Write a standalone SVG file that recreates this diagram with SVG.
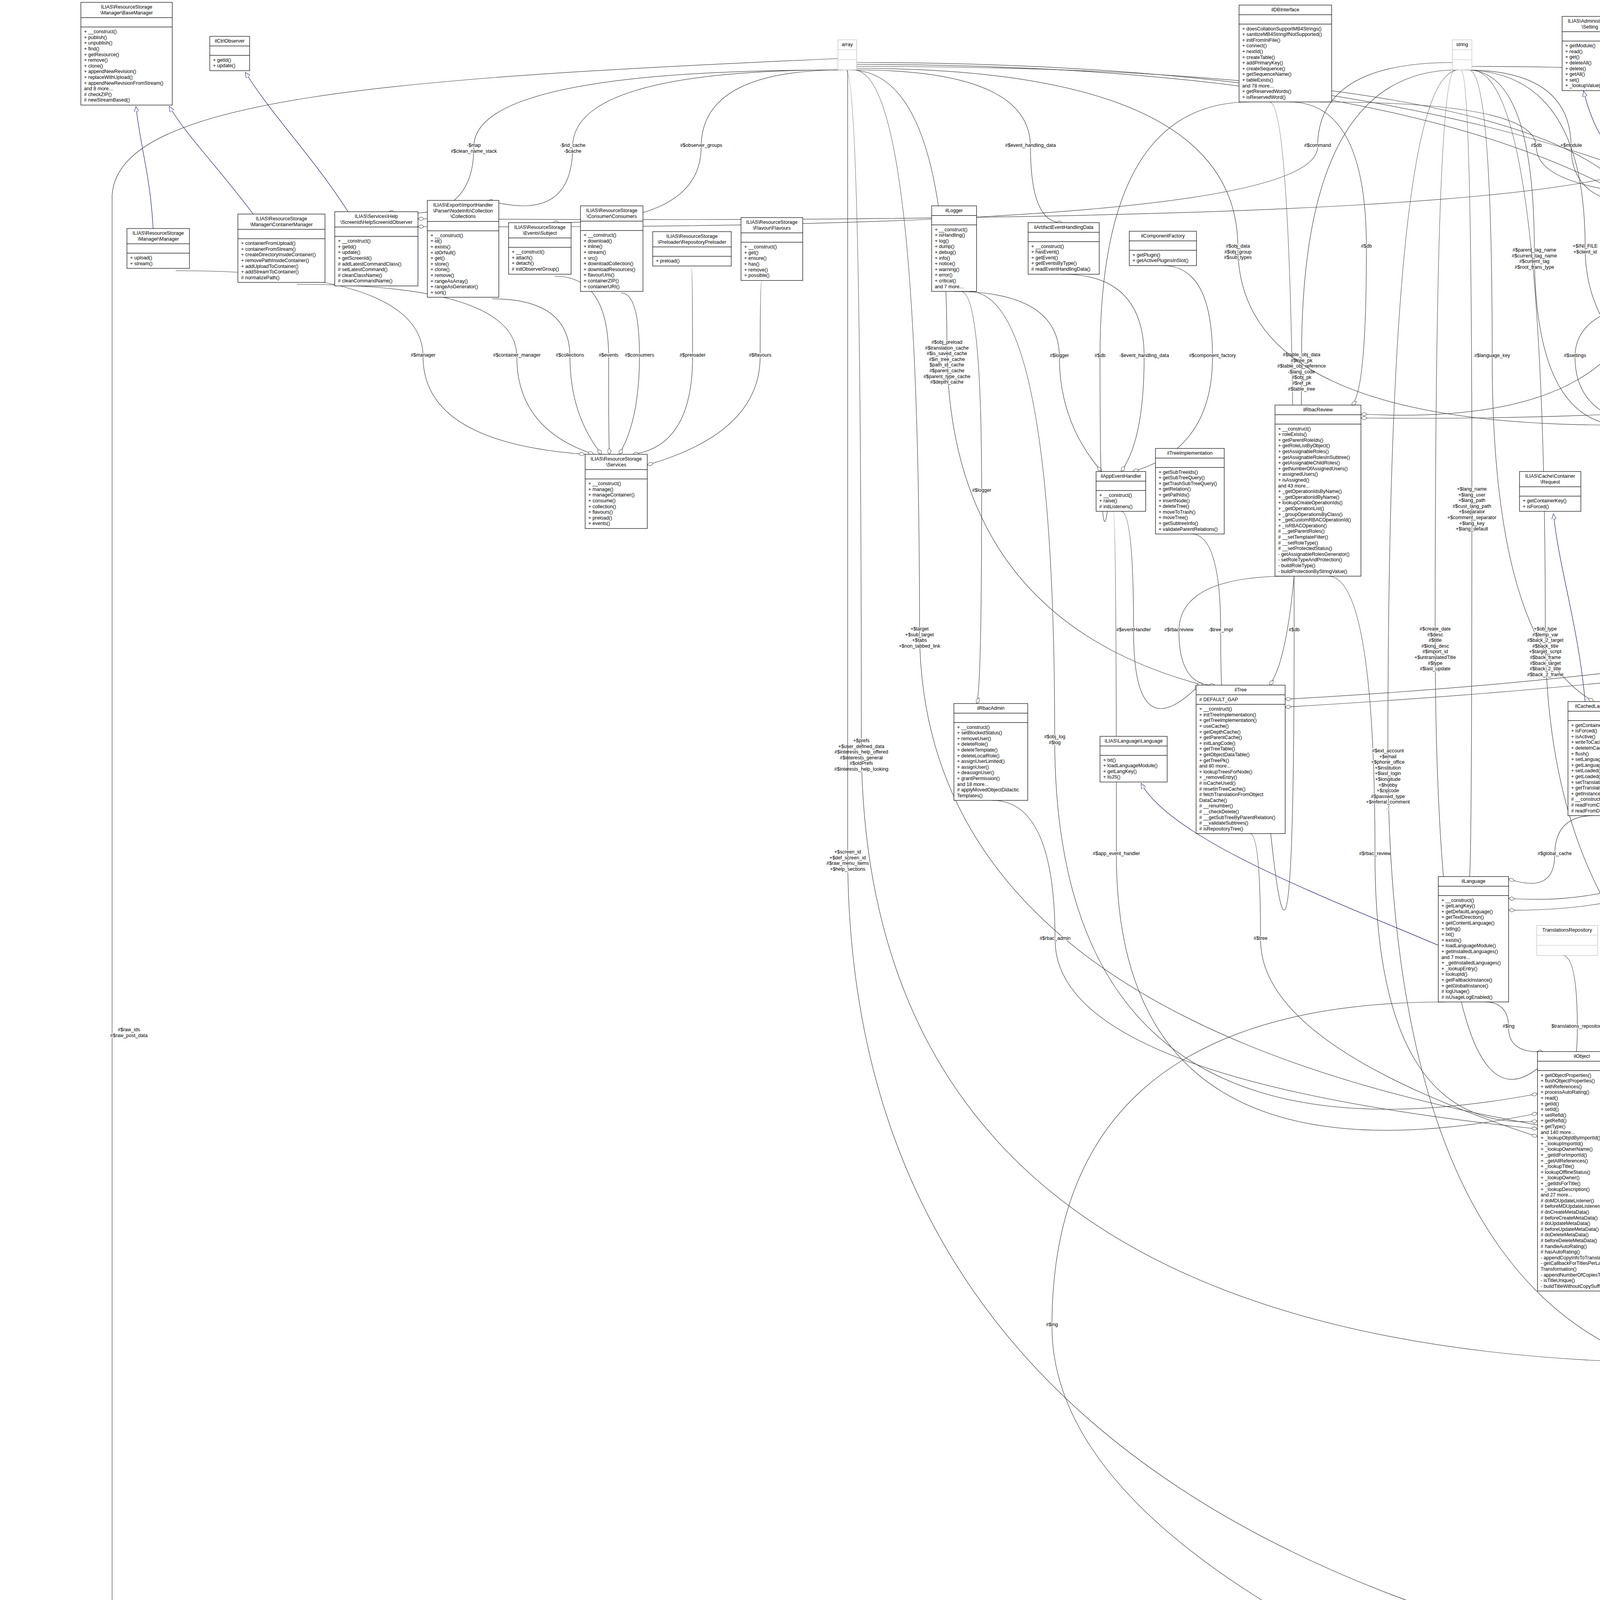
<svg xmlns="http://www.w3.org/2000/svg" width="7363" height="5155" viewBox="0 0 7363 5155">
<defs>
<style>
text{font-family:"Liberation Sans",Arial,sans-serif;font-size:12.5px;fill:#000}
.tc{text-anchor:middle}
.n rect{fill:#fff;stroke:#000;stroke-width:1.2}
.n path{stroke:#000;stroke-width:1.2;fill:none}
.g rect{stroke:#bfbfbf}
.g path{stroke:#bfbfbf}
.hl rect{fill:#bfbfbf}
.e path{fill:none;stroke:#404040;stroke-width:1.2;marker-end:url(#d)}
.e path.i{stroke:#191970;marker-end:url(#t)}
.e text{text-anchor:middle;paint-order:stroke;stroke:#fff;stroke-width:3px}
</style>
<marker id="d" viewBox="0 0 16 10" refX="16" refY="5" markerWidth="16" markerHeight="10" markerUnits="userSpaceOnUse" orient="auto"><path d="M0,5L8,0L16,5L8,10Z" fill="#fff" stroke="#404040"/></marker>
<marker id="t" viewBox="0 0 14 12" refX="14" refY="6" markerWidth="14" markerHeight="12" markerUnits="userSpaceOnUse" orient="auto"><path d="M0,0L14,6L0,12Z" fill="#fff" stroke="#191970"/></marker>
</defs>
<rect width="7363" height="5155" fill="#fff"/>
<g id="edges" class="e">
<path class="i" d="M392,585C385,450 360,380 348,272"/>
<path class="i" d="M648,548C560,430 480,350 433,272"/>
<path class="i" d="M891,542C800,400 700,300 628,185"/>
<path class="i" d="M4340,505C4200,460 4100,420 4054,233"/>
<path class="i" d="M4058,1796C4040,1600 3990,1450 3977,1315"/>
<path class="i" d="M3682,2420C3400,2300 3000,2150 2921,2005"/>
<path class="i" d="M4719,3606C4500,3450 4300,3200 4166,3074"/>
<path class="i" d="M6154,1075C6160,950 6185,850 6187,765"/>
<path class="i" d="M6751,2369C6780,2100 6820,1900 6836,1728"/>
<path class="i" d="M5268,4311L5268,3904"/>
<path class="i" d="M6163,3790C5500,3500 5000,3350 4166,3080"/>
<path class="i" d="M5460,5005C3500,4990 1000,4960 400,4900C300,4880 250,4820 200,4786"/>
<path d="M450,693Q1083,693 1083,913T1497,1163"/><text x="1083" y="913">#$manager</text>
<path d="M760,728Q1323,728 1323,913T1520,1163"/><text x="1323" y="913">#$container_manager</text>
<path d="M1260,765Q1459,765 1459,913T1540,1163"/><text x="1459" y="913">#$collections</text>
<path d="M1420,707Q1558,707 1558,913T1560,1163"/><text x="1558" y="913">#$events</text>
<path d="M1590,750Q1637,750 1637,913T1585,1163"/><text x="1637" y="913">#$consumers</text>
<path d="M1770,684Q1773,684 1773,913T1620,1163"/><text x="1773" y="913">#$preloader</text>
<path d="M1950,719Q1946,719 1946,913T1657,1190"/><text x="1946" y="913">#$flavours</text>
<path d="M2150,179Q1213,179 1213,376T995,542"/><text x="1213" y="376"><tspan x="1213">-$map</tspan><tspan x="1213" dy="14.6">#$clean_name_stack</tspan></text>
<path d="M2155,179Q1466,179 1466,376T1250,513"/><text x="1466" y="376"><tspan x="1466">-$rid_cache</tspan><tspan x="1466" dy="14.6">-$cache</tspan></text>
<path d="M2160,179Q1795,179 1795,376T1415,570"/><text x="1795" y="376">#$observer_groups</text>
<path d="M2190,179Q2638,179 2638,376T2720,570"/><text x="2638" y="376">#$event_handling_data</text>
<path d="M2175,179Q2424,179 2424,880T3080,1754"/><text x="2424" y="880"><tspan x="2424">#$obj_preload</tspan><tspan x="2424" dy="14.6">#$translation_cache</tspan><tspan x="2424" dy="14.6">#$is_saved_cache</tspan><tspan x="2424" dy="14.6">#$in_tree_cache</tspan><tspan x="2424" dy="14.6">$path_id_cache</tspan><tspan x="2424" dy="14.6">#$parent_cache</tspan><tspan x="2424" dy="14.6">#$parent_type_cache</tspan><tspan x="2424" dy="14.6">#$depth_cache</tspan></text>
<path d="M2165,179Q2205,179 2205,1900T4730,3479"/><text x="2205" y="1900"><tspan x="2205">+$prefs</tspan><tspan x="2205" dy="14.6">+$user_defined_data</tspan><tspan x="2205" dy="14.6">#$interests_help_offered</tspan><tspan x="2205" dy="14.6">#$interests_general</tspan><tspan x="2205" dy="14.6">#$oldPrefs</tspan><tspan x="2205" dy="14.6">#$interests_help_looking</tspan></text>
<path d="M2170,179Q2170,179 2170,2185T5180,4400"/><text x="2170" y="2185"><tspan x="2170">+$screen_id</tspan><tspan x="2170" dy="14.6">+$def_screen_id</tspan><tspan x="2170" dy="14.6">#$raw_menu_items</tspan><tspan x="2170" dy="14.6">+$help_sections</tspan></text>
<path d="M2185,179Q2354,179 2354,1614T5714,2990"/><text x="2354" y="1614"><tspan x="2354">+$target</tspan><tspan x="2354" dy="14.6">+$sub_target</tspan><tspan x="2354" dy="14.6">+$tabs</tspan><tspan x="2354" dy="14.6">+$non_tabbed_link</tspan></text>
<path d="M2145,150C1000,200 300,250 287,500L287,4700C300,4800 2500,4860 5460,4875"/><text x="330" y="2640"><tspan x="330">#$raw_ids</tspan><tspan x="330" dy="14.6">#$raw_post_data</tspan></text>
<path d="M2440,746Q2712,746 2712,914T2820,1207"/><text x="2712" y="914">#$logger</text>
<path d="M2720,702Q2929,702 2929,914T2870,1207"/><text x="2929" y="914">-$event_handling_data</text>
<path d="M2977,680Q3104,680 3104,914T2900,1207"/><text x="3104" y="914">#$component_factory</text>
<path d="M3200,261Q2816,261 2816,914T2845,1207"/><text x="2816" y="914">#$db</text>
<path d="M2870,1309Q2902,1309 2902,1616T3070,1754"/><text x="2902" y="1616">#$eventHandler</text>
<path d="M3300,1475Q3018,1475 3018,1616T3110,1754"/><text x="3018" y="1616">#$rbacreview</text>
<path d="M3050,1367Q3125,1367 3125,1616T3140,1754"/><text x="3125" y="1616">-$tree_impl</text>
<path d="M3250,261Q3313,261 3313,1616T3220,1754"/><text x="3313" y="1616">#$db</text>
<path d="M3730,179Q3332,179 3332,912T3250,1754"/><text x="3332" y="912"><tspan x="3332">#$table_obj_data</tspan><tspan x="3332" dy="14.6">#$tree_pk</tspan><tspan x="3332" dy="14.6">#$table_obj_reference</tspan><tspan x="3332" dy="14.6">-$lang_code</tspan><tspan x="3332" dy="14.6">#$obj_pk</tspan><tspan x="3332" dy="14.6">#$ref_pk</tspan><tspan x="3332" dy="14.6">#$table_tree</tspan></text>
<path d="M3300,261Q3498,261 3498,634T3460,1037"/><text x="3498" y="634">#$db</text>
<path d="M2193,170Q4223,170 4223,634T3484,1060"/><text x="4223" y="634"><tspan x="4223">#$is_assigned_cache</tspan><tspan x="4223" dy="14.6">-$_opsCache</tspan><tspan x="4223" dy="14.6">#$assigned_users_cache</tspan></text>
<path d="M3380,261Q3933,261 3933,376T4330,505"/><text x="3933" y="376">#$db</text>
<path d="M3750,179Q4022,179 4022,376T4360,505"/><text x="4022" y="376">+$module</text>
<path d="M4535,179Q4430,179 4430,376T4420,505"/><text x="4430" y="376"><tspan x="4430">-$settings_cache</tspan><tspan x="4430" dy="14.6">-$value_type</tspan></text>
<path d="M3755,179Q3928,179 3928,644T4180,1088"/><text x="3928" y="644"><tspan x="3928">#$parent_tag_name</tspan><tspan x="3928" dy="14.6">#$current_tag_name</tspan><tspan x="3928" dy="14.6">#$current_tag</tspan><tspan x="3928" dy="14.6">#$root_trans_type</tspan></text>
<path d="M4330,768Q4032,768 4032,914T4200,1088"/><text x="4032" y="914">#$settings</text>
<path d="M5500,761Q4171,761 4171,914T4230,1088"/><text x="4171" y="914">#$component_repository</text>
<path d="M2193,175Q3169,175 3169,634T4150,1088"/><text x="3169" y="634"><tspan x="3169">#$obj_data</tspan><tspan x="3169" dy="14.6">#$obj_group</tspan><tspan x="3169" dy="14.6">#$sub_types</tspan></text>
<path d="M3760,179Q3820,179 3820,914T4080,1796"/><text x="3820" y="914">#$language_key</text>
<path d="M4545,179Q4312,179 4312,914T4110,1796"/><text x="4312" y="914">$instances</text>
<path d="M5175,179Q4830,179 4830,914T4140,1796"/><text x="4830" y="914">#$loaded</text>
<path d="M3740,179Q3768,179 3768,1256T3760,2244"/><text x="3768" y="1256"><tspan x="3768">+$lang_name</tspan><tspan x="3768" dy="14.6">+$lang_user</tspan><tspan x="3768" dy="14.6">+$lang_path</tspan><tspan x="3768" dy="14.6">#$cust_lang_path</tspan><tspan x="3768" dy="14.6">+$separator</tspan><tspan x="3768" dy="14.6">+$comment_separator</tspan><tspan x="3768" dy="14.6">+$lang_key</tspan><tspan x="3768" dy="14.6">+$lang_default</tspan></text>
<path d="M4080,2088Q3980,2088 3980,2189T3862,2250"/><text x="3980" y="2189">#$global_cache</text>
<path d="M2193,165Q4647,165 4647,1259T3862,2300"/><text x="4647" y="1259"><tspan x="4647">#$lng_log</tspan><tspan x="4647" dy="14.6">#$used_modules</tspan><tspan x="4647" dy="14.6">#$used_topics</tspan></text>
<path d="M5180,179Q4814,179 4814,1259T3862,2330"/><text x="4814" y="1259">#$usage_log_enabled</text>
<path d="M3725,179Q3674,179 3674,1614T3980,2692"/><text x="3674" y="1614"><tspan x="3674">#$create_date</tspan><tspan x="3674" dy="14.6">#$desc</tspan><tspan x="3674" dy="14.6">#$title</tspan><tspan x="3674" dy="14.6">#$long_desc</tspan><tspan x="3674" dy="14.6">#$import_id</tspan><tspan x="3674" dy="14.6">+$untranslatedTitle</tspan><tspan x="3674" dy="14.6">#$type</tspan><tspan x="3674" dy="14.6">#$last_update</tspan></text>
<path d="M2850,1309Q2858,1309 2858,2189T3936,2850"/><text x="2858" y="2189">#$app_event_handler</text>
<path d="M3400,1475Q3520,1475 3520,2189T3936,2870"/><text x="3520" y="2189">#$rbac_review</text>
<path d="M2540,2049Q2701,2049 2701,2406T3936,2890"/><text x="2701" y="2406">#$rbac_admin</text>
<path d="M3200,2134Q3227,2134 3227,2406T3936,2910"/><text x="3227" y="2406">#$tree</text>
<path d="M4200,1424Q4185,1424 4185,2189T4163,2760"/><text x="4185" y="2189">#$obj_definition</text>
<path d="M4960,1376Q4714,1376 4714,2189T4163,2780"/><text x="4714" y="2189">#$ilias</text>
<path d="M3800,2565Q3862,2565 3862,2631T3950,2692"/><text x="3862" y="2631">#$lng</text>
<path d="M4000,2446Q4038,2446 4038,2631T3975,2692"/><text x="4038" y="2631">$translations_repository</text>
<path d="M4160,2446Q4176,2446 4176,2631T4100,2692"/><text x="4176" y="2631">$lom_services</text>
<path d="M4400,2536Q4372,2536 4372,2631T4163,2720"/><text x="4372" y="2631">$object_properties</text>
<path d="M4640,2466Q4587,2466 4587,2631T4163,2740"/><text x="4587" y="2631">$properties_aggregator</text>
<path d="M2480,746Q2700,746 2700,1890T3936,2800"/><text x="2700" y="1890"><tspan x="2700">#$obj_log</tspan><tspan x="2700" dy="14.6">#$log</tspan></text>
<path d="M4740,3039Q4811,3039 4811,3395T4900,3479"/><text x="4811" y="3395">#$date_format_factory</text>
<path d="M3735,179Q3553,179 3553,1926T4719,3530"/><text x="3553" y="1926"><tspan x="3553">#$ext_account</tspan><tspan x="3553" dy="14.6">+$email</tspan><tspan x="3553" dy="14.6">+$phone_office</tspan><tspan x="3553" dy="14.6">+$institution</tspan><tspan x="3553" dy="14.6">+$last_login</tspan><tspan x="3553" dy="14.6">+$longitude</tspan><tspan x="3553" dy="14.6">+$hobby</tspan><tspan x="3553" dy="14.6">+$zipcode</tspan><tspan x="3553" dy="14.6">#$passwd_type</tspan><tspan x="3553" dy="14.6">+$referral_comment</tspan><tspan x="3553" dy="14.6">...</tspan></text>
<path d="M5200,179Q5783,179 5783,1945T4919,3520"/><text x="5783" y="1945"><tspan x="5783">#$profile_incomplete</tspan><tspan x="5783" dy="14.6">#$passwd_policy_reset</tspan><tspan x="5783" dy="14.6">#$time_limit_unlimited</tspan><tspan x="5783" dy="14.6">-$is_self_registered</tspan></text>
<path d="M6140,179Q6380,179 6380,1939T4919,3540"/><text x="6380" y="1939"><tspan x="6380">+PASSWD_CRYPTED</tspan><tspan x="6380" dy="14.6">+NO_AVATAR_RID</tspan><tspan x="6380" dy="14.6">+PASSWD_PLAIN</tspan></text>
<path d="M6900,179Q6948,179 6948,1945T4919,3560"/><text x="6948" y="1945"><tspan x="6948">#$time_limit_owner</tspan><tspan x="6948" dy="14.6">+$active</tspan><tspan x="6948" dy="14.6">#$time_limit_from</tspan><tspan x="6948" dy="14.6">#$time_limit_until</tspan><tspan x="6948" dy="14.6">+$login_attempts</tspan><tspan x="6948" dy="14.6">+$last_password_change_ts</tspan></text>
<path d="M5100,789Q5182,789 5182,1945T4919,3580"/><text x="5182" y="1945">#$error</text>
<path d="M2193,160Q5327,160 5327,1945T4919,3600"/><text x="5327" y="1945">#$personal_image_cache</text>
<path d="M6520,1010Q6469,1010 6469,2189T4919,3620"/><text x="6469" y="2189"><tspan x="6469">-cron_delete_user</tspan><tspan x="6469" dy="14.6">_reminder_mail</tspan></text>
<path d="M6920,179Q7144,179 7144,1951T6370,3720"/><text x="7144" y="1951"><tspan x="7144">#$overall_limit</tspan><tspan x="7144" dy="14.6">#$reminder_status</tspan><tspan x="7144" dy="14.6">#$preference_nr</tspan><tspan x="7144" dy="14.6">#$pref_deadline</tspan><tspan x="7144" dy="14.6">#$reminder_day</tspan><tspan x="7144" dy="14.6">#$schedule_type</tspan><tspan x="7144" dy="14.6">#$reservation_period</tspan></text>
<path d="M6160,179Q6650,179 6650,1939T6300,3720"/><text x="6650" y="1939"><tspan x="6650">+TYPE_FIX_SCHEDULE</tspan><tspan x="6650" dy="14.6">+TYPE_NO_SCHEDULE</tspan><tspan x="6650" dy="14.6">+TYPE_NO_SCHEDULE</tspan><tspan x="6650" dy="14.6">_PREFERENCES</tspan></text>
<path d="M5205,179Q6136,179 6136,1945T6250,3720"/><text x="6136" y="1945"><tspan x="6136">#$messages</tspan><tspan x="6136" dy="14.6">#$public_log</tspan></text>
<path d="M6150,179Q5782,179 5782,1614T4163,2700"/><text x="5782" y="1614"><tspan x="5782">+TABLE_OBJECT_DATA</tspan><tspan x="5782" dy="14.6">+LONG_DESC_LENGTH</tspan><tspan x="5782" dy="14.6">+TITLE_LENGTH</tspan><tspan x="5782" dy="14.6">+DESC_LENGTH</tspan></text>
<path d="M6895,179Q6398,179 6398,1614T4163,2710"/><text x="6398" y="1614"><tspan x="6398">#$ref_id</tspan><tspan x="6398" dy="14.6">#$max_desc</tspan><tspan x="6398" dy="14.6">#$max_title</tspan><tspan x="6398" dy="14.6">#$owner</tspan></text>
<path d="M5172,179Q5088,179 5088,1607T4163,2730"/><text x="5088" y="1607"><tspan x="5088">#$register</tspan><tspan x="5088" dy="14.6">#$call_by_reference</tspan><tspan x="5088" dy="14.6">-$process_auto_reating</tspan><tspan x="5088" dy="14.6">#$add_dots</tspan></text>
<path d="M5210,179Q5967,179 5967,1614T5820,2870"/><text x="5967" y="1614"><tspan x="5967">#$manual_activation</tspan><tspan x="5967" dy="14.6">#$sub_tabs</tspan><tspan x="5967" dy="14.6">#$subtab_manual_activation</tspan><tspan x="5967" dy="14.6">+$setup_mode</tspan><tspan x="5967" dy="14.6">#$force_one_tab</tspan></text>
<path d="M3765,179Q3956,179 3956,1614T5780,2870"/><text x="3956" y="1614"><tspan x="3956">+$ob_type</tspan><tspan x="3956" dy="14.6">#$temp_var</tspan><tspan x="3956" dy="14.6">#$back_2_target</tspan><tspan x="3956" dy="14.6">#$back_title</tspan><tspan x="3956" dy="14.6">+$target_script</tspan><tspan x="3956" dy="14.6">#$back_frame</tspan><tspan x="3956" dy="14.6">#$back_target</tspan><tspan x="3956" dy="14.6">#$back_2_title</tspan><tspan x="3956" dy="14.6">#$back_2_frame</tspan></text>
<path d="M6150,1440Q6074,1440 6074,2189T5850,2870"/><text x="6074" y="2189">#$ctrl</text>
<path d="M6654,2430Q6265,2430 6265,2631T5953,2886"/><text x="6265" y="2631">#$tpl</text>
<path d="M6120,1440Q6103,1440 6103,2631T5357,4350"/><text x="6103" y="2631">#$ctrl</text>
<path d="M4400,768Q5575,768 5575,2406T5357,4370"/><text x="5575" y="2406">#$settings</text>
<path d="M4860,4239Q5109,4239 5109,4274T5200,4311"/><text x="5109" y="4274">#$user</text>
<path d="M5480,3960Q5399,3960 5399,4274T5320,4311"/><text x="5399" y="4274">#$help_request</text>
<path d="M5260,4589Q5496,4589 5496,4617T5540,4675"/><text x="5496" y="4617">#$help</text>
<path d="M6250,3998Q5959,3998 5959,4448T5620,4675"/><text x="5959" y="4448">#$pool</text>
<path d="M5584,4763Q5609,4763 5609,4818T5584,4853"/><text x="5609" y="4818">#$help</text>
<path d="M4820,4239Q5218,4239 5218,4617T5460,4880"/><text x="5218" y="4617">#$user</text>
<path d="M6270,3998Q6179,3998 6179,4617T5708,4990"/><text x="6179" y="4617">#$pool</text>
<path d="M5850,3133Q6045,3133 6045,4448T5708,5000"/><text x="6045" y="4448">#$tabs_gui</text>
<path d="M6200,1440Q6488,1440 6488,3395T5708,5010"/><text x="6488" y="3395">#$ctrl</text>
<path d="M6740,2447Q6720,2447 6720,4274T5708,5020"/><text x="6720" y="4274">#$tpl</text>
<path d="M6930,179Q7293,179 7293,2604T5708,5030"/><text x="7293" y="2604"><tspan x="7293">#$user_id_to_book</tspan><tspan x="7293" dy="14.6">#$user_id_assigner</tspan><tspan x="7293" dy="14.6">#$book_obj_id</tspan><tspan x="7293" dy="14.6">#$context_obj_id</tspan><tspan x="7293" dy="14.6">#$booking_object_id</tspan></text>
<path d="M3700,2565Q2693,2565 2693,3395T5460,4900"/><text x="2693" y="3395">#$lng</text>
<path d="M6135,179Q6296,179 6296,370T6218,513"/><text x="6296" y="300"><tspan x="6296">+CMD_MODE_HTML</tspan><tspan x="6296" dy="14.6">+PARAM_CMD</tspan><tspan x="6296" dy="14.6">+PARAM_CMD_FALLBACK</tspan><tspan x="6296" dy="14.6">+PARAM_CMD_MODE</tspan><tspan x="6296" dy="14.6">+PARAM_CMD_CLASS</tspan><tspan x="6296" dy="14.6">+CMD_POST</tspan><tspan x="6296" dy="14.6">+CMD_MODE_PROCESS</tspan><tspan x="6296" dy="14.6">+PROTECTED_PARAMETERS</tspan><tspan x="6296" dy="14.6">+PARAM_CID_PATH</tspan><tspan x="6296" dy="14.6">+PARAM_CSRF_TOKEN</tspan><tspan x="6296" dy="14.6">...</tspan></text>
<path d="M6130,179Q5987,179 5987,376T5650,513"/><text x="5987" y="376">+PLUGIN_BASE_PATH</text>
<path d="M5180,179Q5104,179 5104,376T5150,482"/><text x="5104" y="376">#$whoops_handlers_registered</text>
<path d="M5200,179Q5269,179 5269,376T5200,482"/><text x="5269" y="376">#$DEBUG_ENV</text>
<path d="M5368,179Q5410,179 5410,376T5222,490"/><text x="5410" y="376">#$whoops</text>
<path d="M6128,170Q5645,170 5645,376T5222,510"/><text x="5645" y="376"><tspan x="5645">-SENSITIVE_PARAMETER</tspan><tspan x="5645" dy="14.6">_NAMES</tspan></text>
<path d="M3768,170Q4882,170 4882,376T5222,530"/><text x="4882" y="376">#$message</text>
<path d="M6170,179Q6505,179 6505,376T6570,820"/><text x="6505" y="376">+TABLE_NAME</text>
<path d="M6910,179Q6900,179 6900,638T6860,1505"/><text x="6900" y="638"><tspan x="6900">+MESSAGE_TYPE_SUCCESS</tspan><tspan x="6900" dy="14.6">+MESSAGE_TYPE_FAILURE</tspan><tspan x="6900" dy="14.6">+MESSAGE_TYPE_INFO</tspan><tspan x="6900" dy="14.6">+MESSAGE_TYPES</tspan><tspan x="6900" dy="14.6">+MESSAGE_TYPE_QUESTION</tspan><tspan x="6900" dy="14.6">+DEFAULT_BLOCK</tspan></text>
<path d="M6175,179Q6701,179 6701,370T5222,560"/><text x="6701" y="370"><tspan x="6701">+$MESSAGE</tspan><tspan x="6701" dy="14.6">+$FATAL</tspan><tspan x="6701" dy="14.6">+$WARNING</tspan></text>
<path d="M5100,789Q5096,789 5096,914T4990,1142"/><text x="5096" y="914">#$error</text>
<path d="M3745,179Q4058,179 4058,634T4950,1142"/><text x="4058" y="634"><tspan x="4058">+$INI_FILE</tspan><tspan x="4058" dy="14.6">+$client_id</tspan></text>
<path d="M6145,179Q5368,179 5368,634T3484,1070"/><text x="5368" y="634"><tspan x="5368">+FILTER_NOT_INTERNAL</tspan><tspan x="5368" dy="14.6">+FILTER_ALL_GLOBAL</tspan><tspan x="5368" dy="14.6">+FILTER_ALL</tspan><tspan x="5368" dy="14.6">+FILTER_INTERNAL</tspan><tspan x="5368" dy="14.6">+FILTER_TEMPLATES</tspan><tspan x="5368" dy="14.6">+FILTER_ALL_LOCAL</tspan></text>
<path d="M6155,179Q5998,179 5998,634T4339,1110"/><text x="5998" y="634"><tspan x="5998">+MODE_REPOSITORY</tspan><tspan x="5998" dy="14.6">+MODE_ADMINISTRATION</tspan><tspan x="5998" dy="14.6">+MODE_WORKSPACE</tspan></text>
<path d="M6165,179Q5904,179 5904,912T3290,1790"/><text x="5904" y="860"><tspan x="5904">+TREE_TYPE_NESTED_SET</tspan><tspan x="5904" dy="14.6">+RELATION_PARENT</tspan><tspan x="5904" dy="14.6">+RELATION_CHILD</tspan><tspan x="5904" dy="14.6">+TREE_TYPE_MATERIALIZED</tspan><tspan x="5904" dy="14.6">_PATH</tspan><tspan x="5904" dy="14.6">#DEFAULT_LANGUAGE</tspan><tspan x="5904" dy="14.6">+RELATION_SIBLING</tspan><tspan x="5904" dy="14.6">+POS_FIRST_NODE</tspan><tspan x="5904" dy="14.6">+RELATION_EQUALS</tspan><tspan x="5904" dy="14.6">+POS_LAST_NODE</tspan><tspan x="5904" dy="14.6">+RELATION_NONE</tspan><tspan x="5904" dy="14.6">...</tspan></text>
<path d="M6900,179Q6375,179 6375,905T3290,1810"/><text x="6375" y="905"><tspan x="6375">#$tree_id</tspan><tspan x="6375" dy="14.6">-$gap</tspan><tspan x="6375" dy="14.6">#$root_id</tspan></text>
<path d="M6425,679Q6242,679 6242,914T6250,1075"/><text x="6242" y="914">#$exec_object</text>
<path d="M6140,170Q4270,170 4270,376T1070,560"/><text x="4270" y="376"><tspan x="4270">-SCREEN_SEPARATOR</tspan><tspan x="4270" dy="14.6">-COMMAND_SEPARATOR</tspan></text>
<path d="M2460,746Q2513,746 2513,1259T2500,1801"/><text x="2513" y="1259">#$logger</text>
<path d="M3720,160Q3373,160 3373,376T1070,580"/><text x="3373" y="376">#$command</text>
</g>
<g id="n_array" class="n g"><rect x="2145" y="102" width="48" height="77"/><text class="tc" x="2169" y="118">array</text><path d="M2145,127h48M2145,153h48"/></g>
<g id="n_string" class="n g"><rect x="3718" y="102" width="50" height="77"/><text class="tc" x="3743" y="118">string</text><path d="M3718,127h50M3718,153h50"/></g>
<g id="n_static" class="n g"><rect x="4509" y="102" width="53" height="77"/><text class="tc" x="4535" y="118">static</text><path d="M4509,127h53M4509,153h53"/></g>
<g id="n_bool" class="n g"><rect x="5170" y="102" width="47" height="77"/><text class="tc" x="5193" y="118">bool</text><path d="M5170,127h47M5170,153h47"/></g>
<g id="n_run" class="n g"><rect x="5320" y="102" width="96" height="77"/><text class="tc" x="5368" y="118">RunInterface</text><path d="M5320,127h96M5320,153h96"/></g>
<g id="n_const" class="n g"><rect x="6128" y="102" width="51" height="77"/><text class="tc" x="6153" y="118">const</text><path d="M6128,127h51M6128,153h51"/></g>
<g id="n_int" class="n g"><rect x="6893" y="102" width="42" height="77"/><text class="tc" x="6914" y="118">int</text><path d="M6893,127h42M6893,153h42"/></g>
<g id="n_object" class="n g"><rect x="6398" y="602" width="54" height="77"/><text class="tc" x="6425" y="618">object</text><path d="M6398,627h54M6398,653h54"/></g>
<g id="n_trrepo" class="n g"><rect x="3934" y="2369" width="156" height="77"/><text class="tc" x="4012" y="2385">TranslationsRepository</text><path d="M3934,2394h156M3934,2420h156"/></g>
<g id="n_lom" class="n g"><rect x="4116" y="2369" width="102" height="77"/><text class="tc" x="4167" y="2385">LOMServices</text><path d="M4116,2394h102M4116,2420h102"/></g>
<g id="n_dff" class="n g"><rect x="4676" y="2968" width="132" height="77"/><text class="tc" x="4742" y="2984">DateFormatFactory</text><path d="M4676,2993h132M4676,3019h132"/></g>
<g id="n_gti" class="n"><rect x="6654" y="2369" width="169" height="77"/><text class="tc" x="6738.5" y="2385">ilGlobalTemplateInterface</text><path d="M6654,2394h169M6654,2420h169"/></g>
<g id="n_cbci" class="n"><rect x="5186" y="3822" width="166" height="77"/><text class="tc" x="5269" y="3838">ilCtrlBaseClassInterface</text><path d="M5186,3847h166M5186,3873h166"/></g>
<g id="n_basemanager" class="n"><rect x="207" y="6" width="234" height="263"/><text class="tc" x="324" y="22"><tspan x="324">ILIAS\ResourceStorage</tspan><tspan x="324" dy="14.6">\Manager\BaseManager</tspan></text><path d="M207,45.2h234M207,69.2h234"/><text y="70.6"><tspan x="215" dy="14.6">+ __construct()</tspan><tspan x="215" dy="14.6">+ publish()</tspan><tspan x="215" dy="14.6">+ unpublish()</tspan><tspan x="215" dy="14.6">+ find()</tspan><tspan x="215" dy="14.6">+ getResource()</tspan><tspan x="215" dy="14.6">+ remove()</tspan><tspan x="215" dy="14.6">+ clone()</tspan><tspan x="215" dy="14.6">+ appendNewRevision()</tspan><tspan x="215" dy="14.6">+ replaceWithUpload()</tspan><tspan x="215" dy="14.6">+ appendNewRevisionFromStream()</tspan><tspan x="215" dy="14.6">and 8 more...</tspan><tspan x="215" dy="14.6"># checkZIP()</tspan><tspan x="215" dy="14.6"># newStreamBased()</tspan></text></g>
<g id="n_ctrlobserver" class="n"><rect x="537" y="93" width="102" height="88"/><text class="tc" x="588" y="109">ilCtrlObserver</text><path d="M537,117.6h102M537,141.6h102"/><text y="143"><tspan x="545" dy="14.6">+ getId()</tspan><tspan x="545" dy="14.6">+ update()</tspan></text></g>
<g id="n_manager" class="n"><rect x="325" y="585" width="160" height="102"/><text class="tc" x="405" y="601"><tspan x="405">ILIAS\ResourceStorage</tspan><tspan x="405" dy="14.6">\Manager\Manager</tspan></text><path d="M325,624.2h160M325,648.2h160"/><text y="649.6"><tspan x="333" dy="14.6">+ upload()</tspan><tspan x="333" dy="14.6">+ stream()</tspan></text></g>
<g id="n_containermanager" class="n"><rect x="609" y="548" width="223" height="175"/><text class="tc" x="720.5" y="564"><tspan x="720.5">ILIAS\ResourceStorage</tspan><tspan x="720.5" dy="14.6">\Manager\ContainerManager</tspan></text><path d="M609,587.2h223M609,611.2h223"/><text y="612.6"><tspan x="617" dy="14.6">+ containerFromUpload()</tspan><tspan x="617" dy="14.6">+ containerFromStream()</tspan><tspan x="617" dy="14.6">+ createDirectoryInsideContainer()</tspan><tspan x="617" dy="14.6">+ removePathInsideContainer()</tspan><tspan x="617" dy="14.6">+ addUploadToContainer()</tspan><tspan x="617" dy="14.6">+ addStreamToContainer()</tspan><tspan x="617" dy="14.6"># normalizePath()</tspan></text></g>
<g id="n_helpscreenidobserver" class="n"><rect x="857" y="542" width="213" height="190"/><text class="tc" x="963.5" y="558"><tspan x="963.5">ILIAS\Services\Help</tspan><tspan x="963.5" dy="14.6">\ScreenId\HelpScreenIdObserver</tspan></text><path d="M857,581.2h213M857,605.2h213"/><text y="606.6"><tspan x="865" dy="14.6">+ __construct()</tspan><tspan x="865" dy="14.6">+ getId()</tspan><tspan x="865" dy="14.6">+ update()</tspan><tspan x="865" dy="14.6">+ getScreenId()</tspan><tspan x="865" dy="14.6"># addLatestCommandClass()</tspan><tspan x="865" dy="14.6"># setLatestCommand()</tspan><tspan x="865" dy="14.6"># cleanClassName()</tspan><tspan x="865" dy="14.6"># cleanCommandName()</tspan></text></g>
<g id="n_collections" class="n"><rect x="1094" y="513" width="183" height="248"/><text class="tc" x="1185.5" y="529"><tspan x="1185.5">ILIAS\Export\ImportHandler</tspan><tspan x="1185.5" dy="14.6">\Parser\NodeInfo\Collection</tspan><tspan x="1185.5" dy="14.6">\Collections</tspan></text><path d="M1094,566.8h183M1094,590.8h183"/><text y="592.2"><tspan x="1102" dy="14.6">+ __construct()</tspan><tspan x="1102" dy="14.6">+ id()</tspan><tspan x="1102" dy="14.6">+ exists()</tspan><tspan x="1102" dy="14.6">+ idOrNull()</tspan><tspan x="1102" dy="14.6">+ get()</tspan><tspan x="1102" dy="14.6">+ store()</tspan><tspan x="1102" dy="14.6">+ clone()</tspan><tspan x="1102" dy="14.6">+ remove()</tspan><tspan x="1102" dy="14.6">+ rangeAsArray()</tspan><tspan x="1102" dy="14.6">+ rangeAsGenerator()</tspan><tspan x="1102" dy="14.6">+ sort()</tspan></text></g>
<g id="n_subject" class="n"><rect x="1302" y="570" width="160" height="132"/><text class="tc" x="1382" y="586"><tspan x="1382">ILIAS\ResourceStorage</tspan><tspan x="1382" dy="14.6">\Events\Subject</tspan></text><path d="M1302,609.2h160M1302,633.2h160"/><text y="634.6"><tspan x="1310" dy="14.6">+ __construct()</tspan><tspan x="1310" dy="14.6">+ attach()</tspan><tspan x="1310" dy="14.6">+ detach()</tspan><tspan x="1310" dy="14.6"># initObserverGroup()</tspan></text></g>
<g id="n_consumers" class="n"><rect x="1486" y="527" width="160" height="219"/><text class="tc" x="1566" y="543"><tspan x="1566">ILIAS\ResourceStorage</tspan><tspan x="1566" dy="14.6">\Consumer\Consumers</tspan></text><path d="M1486,566.2h160M1486,590.2h160"/><text y="591.6"><tspan x="1494" dy="14.6">+ __construct()</tspan><tspan x="1494" dy="14.6">+ download()</tspan><tspan x="1494" dy="14.6">+ inline()</tspan><tspan x="1494" dy="14.6">+ stream()</tspan><tspan x="1494" dy="14.6">+ src()</tspan><tspan x="1494" dy="14.6">+ downloadCollection()</tspan><tspan x="1494" dy="14.6">+ downloadResources()</tspan><tspan x="1494" dy="14.6">+ flavourUrls()</tspan><tspan x="1494" dy="14.6">+ containerZIP()</tspan><tspan x="1494" dy="14.6">+ containerURI()</tspan></text></g>
<g id="n_preloader" class="n"><rect x="1671" y="593" width="201" height="88"/><text class="tc" x="1771.5" y="609"><tspan x="1771.5">ILIAS\ResourceStorage</tspan><tspan x="1771.5" dy="14.6">\Preloader\RepositoryPreloader</tspan></text><path d="M1671,632.2h201M1671,656.2h201"/><text y="657.6"><tspan x="1679" dy="14.6">+ preload()</tspan></text></g>
<g id="n_flavours" class="n"><rect x="1897" y="557" width="158" height="161"/><text class="tc" x="1976" y="573"><tspan x="1976">ILIAS\ResourceStorage</tspan><tspan x="1976" dy="14.6">\Flavour\Flavours</tspan></text><path d="M1897,596.2h158M1897,620.2h158"/><text y="621.6"><tspan x="1905" dy="14.6">+ __construct()</tspan><tspan x="1905" dy="14.6">+ get()</tspan><tspan x="1905" dy="14.6">+ ensure()</tspan><tspan x="1905" dy="14.6">+ has()</tspan><tspan x="1905" dy="14.6">+ remove()</tspan><tspan x="1905" dy="14.6">+ possible()</tspan></text></g>
<g id="n_logger" class="n"><rect x="2385" y="527" width="115" height="219"/><text class="tc" x="2442.5" y="543">ilLogger</text><path d="M2385,551.6h115M2385,575.6h115"/><text y="577"><tspan x="2393" dy="14.6">+ __construct()</tspan><tspan x="2393" dy="14.6">+ isHandling()</tspan><tspan x="2393" dy="14.6">+ log()</tspan><tspan x="2393" dy="14.6">+ dump()</tspan><tspan x="2393" dy="14.6">+ debug()</tspan><tspan x="2393" dy="14.6">+ info()</tspan><tspan x="2393" dy="14.6">+ notice()</tspan><tspan x="2393" dy="14.6">+ warning()</tspan><tspan x="2393" dy="14.6">+ error()</tspan><tspan x="2393" dy="14.6">+ critical()</tspan><tspan x="2393" dy="14.6">and 7 more...</tspan></text></g>
<g id="n_services" class="n"><rect x="1498" y="1163" width="159" height="190"/><text class="tc" x="1577.5" y="1179"><tspan x="1577.5">ILIAS\ResourceStorage</tspan><tspan x="1577.5" dy="14.6">\Services</tspan></text><path d="M1498,1202.2h159M1498,1226.2h159"/><text y="1227.6"><tspan x="1506" dy="14.6">+ __construct()</tspan><tspan x="1506" dy="14.6">+ manage()</tspan><tspan x="1506" dy="14.6">+ manageContainer()</tspan><tspan x="1506" dy="14.6">+ consume()</tspan><tspan x="1506" dy="14.6">+ collection()</tspan><tspan x="1506" dy="14.6">+ flavours()</tspan><tspan x="1506" dy="14.6">+ preload()</tspan><tspan x="1506" dy="14.6">+ events()</tspan></text></g>
<g id="n_bookingprocessgui" class="n"><rect x="5" y="4652" width="243" height="132"/><text class="tc" x="126.5" y="4668"><tspan x="126.5">ILIAS\BookingManager</tspan><tspan x="126.5" dy="14.6">\BookingProcess\BookingProcessGUI</tspan></text><path d="M5,4691.2h243M5,4715.2h243"/><text y="4716.6"><tspan x="13" dy="14.6">+ book()</tspan><tspan x="13" dy="14.6">+ assignParticipants()</tspan><tspan x="13" dy="14.6">+ displayPostInfo()</tspan><tspan x="13" dy="14.6">+ back()</tspan></text></g>
<g id="n_dbinterface" class="n"><rect x="3172" y="13" width="237" height="248"/><text class="tc" x="3290.5" y="29">ilDBInterface</text><path d="M3172,37.6h237M3172,61.6h237"/><text y="63"><tspan x="3180" dy="14.6">+ doesCollationSupportMB4Strings()</tspan><tspan x="3180" dy="14.6">+ sanitizeMB4StringIfNotSupported()</tspan><tspan x="3180" dy="14.6">+ initFromIniFile()</tspan><tspan x="3180" dy="14.6">+ connect()</tspan><tspan x="3180" dy="14.6">+ nextId()</tspan><tspan x="3180" dy="14.6">+ createTable()</tspan><tspan x="3180" dy="14.6">+ addPrimaryKey()</tspan><tspan x="3180" dy="14.6">+ createSequence()</tspan><tspan x="3180" dy="14.6">+ getSequenceName()</tspan><tspan x="3180" dy="14.6">+ tableExists()</tspan><tspan x="3180" dy="14.6">and 78 more...</tspan><tspan x="3180" dy="14.6">+ getReservedWords()</tspan><tspan x="3180" dy="14.6">+ isReservedWord()</tspan></text></g>
<g id="n_adminsetting" class="n"><rect x="3999" y="42" width="142" height="190"/><text class="tc" x="4070" y="58"><tspan x="4070">ILIAS\Administration</tspan><tspan x="4070" dy="14.6">\Setting</tspan></text><path d="M3999,81.2h142M3999,105.2h142"/><text y="106.6"><tspan x="4007" dy="14.6">+ getModule()</tspan><tspan x="4007" dy="14.6">+ read()</tspan><tspan x="4007" dy="14.6">+ get()</tspan><tspan x="4007" dy="14.6">+ deleteAll()</tspan><tspan x="4007" dy="14.6">+ delete()</tspan><tspan x="4007" dy="14.6">+ getAll()</tspan><tspan x="4007" dy="14.6">+ set()</tspan><tspan x="4007" dy="14.6">+ _lookupValue()</tspan></text></g>
<g id="n_artifact" class="n"><rect x="2632" y="570" width="182" height="132"/><text class="tc" x="2723" y="586">ilArtifactEventHandlingData</text><path d="M2632,594.6h182M2632,618.6h182"/><text y="620"><tspan x="2640" dy="14.6">+ __construct()</tspan><tspan x="2640" dy="14.6">+ hasEvent()</tspan><tspan x="2640" dy="14.6">+ getEvent()</tspan><tspan x="2640" dy="14.6">+ getEventsByType()</tspan><tspan x="2640" dy="14.6"># readEventHandlingData()</tspan></text></g>
<g id="n_compfactory" class="n"><rect x="2891" y="592" width="172" height="88"/><text class="tc" x="2977" y="608">ilComponentFactory</text><path d="M2891,616.6h172M2891,640.6h172"/><text y="642"><tspan x="2899" dy="14.6">+ getPlugin()</tspan><tspan x="2899" dy="14.6">+ getActivePluginsInSlot()</tspan></text></g>
<g id="n_setting" class="n"><rect x="4309" y="505" width="157" height="263"/><text class="tc" x="4387.5" y="521">ilSetting</text><path d="M4309,529.6h157M4309,553.6h157"/><text y="555"><tspan x="4317" dy="14.6">+ __construct()</tspan><tspan x="4317" dy="14.6">+ getModule()</tspan><tspan x="4317" dy="14.6">+ read()</tspan><tspan x="4317" dy="14.6">+ get()</tspan><tspan x="4317" dy="14.6">+ deleteAll()</tspan><tspan x="4317" dy="14.6">+ deleteLike()</tspan><tspan x="4317" dy="14.6">+ delete()</tspan><tspan x="4317" dy="14.6">+ getAll()</tspan><tspan x="4317" dy="14.6">+ set()</tspan><tspan x="4317" dy="14.6">+ setScormDebug()</tspan><tspan x="4317" dy="14.6">+ _lookupValue()</tspan><tspan x="4317" dy="14.6">+ _getValueType()</tspan><tspan x="4317" dy="14.6">+ _changeValueType()</tspan><tspan x="4317" dy="14.6">+ _getLongerSettings()</tspan></text></g>
<g id="n_appeventhandler" class="n"><rect x="2806" y="1207" width="127" height="102"/><text class="tc" x="2869.5" y="1223">ilAppEventHandler</text><path d="M2806,1231.6h127M2806,1255.6h127"/><text y="1257"><tspan x="2814" dy="14.6">+ __construct()</tspan><tspan x="2814" dy="14.6">+ raise()</tspan><tspan x="2814" dy="14.6"># initListeners()</tspan></text></g>
<g id="n_treeimpl" class="n"><rect x="2958" y="1148" width="176" height="219"/><text class="tc" x="3046" y="1164">ilTreeImplementation</text><path d="M2958,1172.6h176M2958,1196.6h176"/><text y="1198"><tspan x="2966" dy="14.6">+ getSubTreeIds()</tspan><tspan x="2966" dy="14.6">+ getSubTreeQuery()</tspan><tspan x="2966" dy="14.6">+ getTrashSubTreeQuery()</tspan><tspan x="2966" dy="14.6">+ getRelation()</tspan><tspan x="2966" dy="14.6">+ getPathIds()</tspan><tspan x="2966" dy="14.6">+ insertNode()</tspan><tspan x="2966" dy="14.6">+ deleteTree()</tspan><tspan x="2966" dy="14.6">+ moveToTrash()</tspan><tspan x="2966" dy="14.6">+ moveTree()</tspan><tspan x="2966" dy="14.6">+ getSubtreeInfo()</tspan><tspan x="2966" dy="14.6">+ validateParentRelations()</tspan></text></g>
<g id="n_rbacreview" class="n"><rect x="3264" y="1037" width="220" height="438"/><text class="tc" x="3374" y="1053">ilRbacReview</text><path d="M3264,1061.6h220M3264,1085.6h220"/><text y="1087"><tspan x="3272" dy="14.6">+ __construct()</tspan><tspan x="3272" dy="14.6">+ roleExists()</tspan><tspan x="3272" dy="14.6">+ getParentRoleIds()</tspan><tspan x="3272" dy="14.6">+ getRoleListByObject()</tspan><tspan x="3272" dy="14.6">+ getAssignableRoles()</tspan><tspan x="3272" dy="14.6">+ getAssignableRolesInSubtree()</tspan><tspan x="3272" dy="14.6">+ getAssignableChildRoles()</tspan><tspan x="3272" dy="14.6">+ getNumberOfAssignedUsers()</tspan><tspan x="3272" dy="14.6">+ assignedUsers()</tspan><tspan x="3272" dy="14.6">+ isAssigned()</tspan><tspan x="3272" dy="14.6">and 43 more...</tspan><tspan x="3272" dy="14.6">+ _getOperationIdsByName()</tspan><tspan x="3272" dy="14.6">+ _getOperationIdByName()</tspan><tspan x="3272" dy="14.6">+ lookupCreateOperationIds()</tspan><tspan x="3272" dy="14.6">+ _getOperationList()</tspan><tspan x="3272" dy="14.6">+ _groupOperationsByClass()</tspan><tspan x="3272" dy="14.6">+ _getCustomRBACOperationId()</tspan><tspan x="3272" dy="14.6">+ _isRBACOperation()</tspan><tspan x="3272" dy="14.6"># __getParentRoles()</tspan><tspan x="3272" dy="14.6"># __setTemplateFilter()</tspan><tspan x="3272" dy="14.6"># __setRoleType()</tspan><tspan x="3272" dy="14.6"># __setProtectedStatus()</tspan><tspan x="3272" dy="14.6">- getAssignableRolesGenerator()</tspan><tspan x="3272" dy="14.6">- setRoleTypeAndProtection()</tspan><tspan x="3272" dy="14.6">- buildRoleType()</tspan><tspan x="3272" dy="14.6">- buildProtectionByStringValue()</tspan></text></g>
<g id="n_objdef" class="n"><rect x="4121" y="1088" width="218" height="336"/><text class="tc" x="4230" y="1104">ilObjectDefinition</text><path d="M4121,1112.6h218M4121,1136.6h218"/><text y="1138"><tspan x="4129" dy="14.6">+ __construct()</tspan><tspan x="4129" dy="14.6">+ readDefinitionData()</tspan><tspan x="4129" dy="14.6">+ getClassName()</tspan><tspan x="4129" dy="14.6">+ getLocation()</tspan><tspan x="4129" dy="14.6">+ getGroup()</tspan><tspan x="4129" dy="14.6">+ getGroupOfObj()</tspan><tspan x="4129" dy="14.6">+ hasCheckbox()</tspan><tspan x="4129" dy="14.6">+ getTranslationType()</tspan><tspan x="4129" dy="14.6">+ stopInheritance()</tspan><tspan x="4129" dy="14.6">+ getDevMode()</tspan><tspan x="4129" dy="14.6">and 88 more...</tspan><tspan x="4129" dy="14.6">+ getRepositoryObjectTypes</tspan><tspan x="4129" dy="14.6">ForComponent()</tspan><tspan x="4129" dy="14.6">+ getComponentForType()</tspan><tspan x="4129" dy="14.6">+ getGroupedRepositoryObject</tspan><tspan x="4129" dy="14.6">Types()</tspan><tspan x="4129" dy="14.6"># readPluginData()</tspan><tspan x="4129" dy="14.6"># parsePluginData()</tspan><tspan x="4129" dy="14.6"># getGroupedPluginObjectTypes()</tspan></text></g>
<g id="n_request" class="n"><rect x="3890" y="1207" width="157" height="102"/><text class="tc" x="3968.5" y="1223"><tspan x="3968.5">ILIAS\Cache\Container</tspan><tspan x="3968.5" dy="14.6">\Request</tspan></text><path d="M3890,1246.2h157M3890,1270.2h157"/><text y="1271.6"><tspan x="3898" dy="14.6">+ getContainerKey()</tspan><tspan x="3898" dy="14.6">+ isForced()</tspan></text></g>
<g id="n_tree" class="n"><rect x="3062" y="1754" width="228" height="380"/><text class="tc" x="3176" y="1770">ilTree</text><path d="M3062,1778.6h228M3062,1803.2h228"/><text x="3070" y="1794.6"># DEFAULT_GAP</text><text y="1804.6"><tspan x="3070" dy="14.6">+ __construct()</tspan><tspan x="3070" dy="14.6">+ initTreeImplementation()</tspan><tspan x="3070" dy="14.6">+ getTreeImplementation()</tspan><tspan x="3070" dy="14.6">+ useCache()</tspan><tspan x="3070" dy="14.6">+ getDepthCache()</tspan><tspan x="3070" dy="14.6">+ getParentCache()</tspan><tspan x="3070" dy="14.6">+ initLangCode()</tspan><tspan x="3070" dy="14.6">+ getTreeTable()</tspan><tspan x="3070" dy="14.6">+ getObjectDataTable()</tspan><tspan x="3070" dy="14.6">+ getTreePk()</tspan><tspan x="3070" dy="14.6">and 80 more...</tspan><tspan x="3070" dy="14.6">+ lookupTreesForNode()</tspan><tspan x="3070" dy="14.6">+ _removeEntry()</tspan><tspan x="3070" dy="14.6"># isCacheUsed()</tspan><tspan x="3070" dy="14.6"># resetInTreeCache()</tspan><tspan x="3070" dy="14.6"># fetchTranslationFromObject</tspan><tspan x="3070" dy="14.6">DataCache()</tspan><tspan x="3070" dy="14.6"># __renumber()</tspan><tspan x="3070" dy="14.6"># __checkDelete()</tspan><tspan x="3070" dy="14.6"># __getSubTreeByParentRelation()</tspan><tspan x="3070" dy="14.6"># __validateSubtrees()</tspan><tspan x="3070" dy="14.6"># isRepositoryTree()</tspan></text></g>
<g id="n_cachedlang" class="n"><rect x="4014" y="1796" width="140" height="292"/><text class="tc" x="4084" y="1812">ilCachedLanguage</text><path d="M4014,1820.6h140M4014,1844.6h140"/><text y="1846"><tspan x="4022" dy="14.6">+ getContainerKey()</tspan><tspan x="4022" dy="14.6">+ isForced()</tspan><tspan x="4022" dy="14.6">+ isActive()</tspan><tspan x="4022" dy="14.6">+ writeToCache()</tspan><tspan x="4022" dy="14.6">+ deleteInCache()</tspan><tspan x="4022" dy="14.6">+ flush()</tspan><tspan x="4022" dy="14.6">+ setLanguageKey()</tspan><tspan x="4022" dy="14.6">+ getLanguageKey()</tspan><tspan x="4022" dy="14.6">+ setLoaded()</tspan><tspan x="4022" dy="14.6">+ getLoaded()</tspan><tspan x="4022" dy="14.6">+ setTranslations()</tspan><tspan x="4022" dy="14.6">+ getTranslations()</tspan><tspan x="4022" dy="14.6">+ getInstance()</tspan><tspan x="4022" dy="14.6"># __construct()</tspan><tspan x="4022" dy="14.6"># readFromCache()</tspan><tspan x="4022" dy="14.6"># readFromDB()</tspan></text></g>
<g id="n_language_if" class="n"><rect x="2816" y="1885" width="172" height="117"/><text class="tc" x="2902" y="1901">ILIAS\Language\Language</text><path d="M2816,1909.6h172M2816,1933.6h172"/><text y="1935"><tspan x="2824" dy="14.6">+ txt()</tspan><tspan x="2824" dy="14.6">+ loadLanguageModule()</tspan><tspan x="2824" dy="14.6">+ getLangKey()</tspan><tspan x="2824" dy="14.6">+ toJS()</tspan></text></g>
<g id="n_rbacadmin" class="n"><rect x="2442" y="1801" width="189" height="248"/><text class="tc" x="2536.5" y="1817">ilRbacAdmin</text><path d="M2442,1825.6h189M2442,1849.6h189"/><text y="1851"><tspan x="2450" dy="14.6">+ __construct()</tspan><tspan x="2450" dy="14.6">+ setBlockedStatus()</tspan><tspan x="2450" dy="14.6">+ removeUser()</tspan><tspan x="2450" dy="14.6">+ deleteRole()</tspan><tspan x="2450" dy="14.6">+ deleteTemplate()</tspan><tspan x="2450" dy="14.6">+ deleteLocalRole()</tspan><tspan x="2450" dy="14.6">+ assignUserLimited()</tspan><tspan x="2450" dy="14.6">+ assignUser()</tspan><tspan x="2450" dy="14.6">+ deassignUser()</tspan><tspan x="2450" dy="14.6">+ grantPermission()</tspan><tspan x="2450" dy="14.6">and 18 more...</tspan><tspan x="2450" dy="14.6"># applyMovedObjectDidactic</tspan><tspan x="2450" dy="14.6">Templates()</tspan></text></g>
<g id="n_errorhandling" class="n"><rect x="5018" y="482" width="204" height="307"/><text class="tc" x="5120" y="498">ilErrorHandling</text><path d="M5018,506.6h204M5018,530.6h204"/><text y="532"><tspan x="5026" dy="14.6">+ __construct()</tspan><tspan x="5026" dy="14.6">+ getHandler()</tspan><tspan x="5026" dy="14.6">+ raiseError()</tspan><tspan x="5026" dy="14.6">+ getMessage()</tspan><tspan x="5026" dy="14.6">+ setMessage()</tspan><tspan x="5026" dy="14.6">+ appendMessage()</tspan><tspan x="5026" dy="14.6">+ handlePreWhoops()</tspan><tspan x="5026" dy="14.6"># initWhoopsHandlers()</tspan><tspan x="5026" dy="14.6"># getRunTime()</tspan><tspan x="5026" dy="14.6"># getWhoops()</tspan><tspan x="5026" dy="14.6"># isDevmodeActive()</tspan><tspan x="5026" dy="14.6"># defaultHandler()</tspan><tspan x="5026" dy="14.6"># devmodeHandler()</tspan><tspan x="5026" dy="14.6"># addEditorSupport()</tspan><tspan x="5026" dy="14.6"># applyEditorPathTranslations()</tspan><tspan x="5026" dy="14.6"># parseEditorPathTranslation()</tspan><tspan x="5026" dy="14.6">- errorHandler()</tspan></text></g>
<g id="n_comprepo" class="n"><rect x="5463" y="513" width="229" height="248"/><text class="tc" x="5577.5" y="529">ilComponentRepository</text><path d="M5463,537.6h229M5463,561.6h229"/><text y="563"><tspan x="5471" dy="14.6">+ hasComponent()</tspan><tspan x="5471" dy="14.6">+ hasComponentId()</tspan><tspan x="5471" dy="14.6">+ getComponents()</tspan><tspan x="5471" dy="14.6">+ getComponentById()</tspan><tspan x="5471" dy="14.6">+ getComponentByTypeAndName()</tspan><tspan x="5471" dy="14.6">+ hasPluginSlotId()</tspan><tspan x="5471" dy="14.6">+ getPluginSlots()</tspan><tspan x="5471" dy="14.6">+ getPluginSlotById()</tspan><tspan x="5471" dy="14.6">+ hasPluginId()</tspan><tspan x="5471" dy="14.6">+ getPlugins()</tspan><tspan x="5471" dy="14.6">+ getPluginById()</tspan><tspan x="5471" dy="14.6">+ getPluginByName()</tspan><tspan x="5471" dy="14.6">+ hasActivatedPlugin()</tspan></text></g>
<g id="n_ctrlinterface" class="n"><rect x="6191" y="513" width="179" height="249"/><text class="tc" x="6280.5" y="529">ilCtrlInterface</text><path d="M6191,537.6h179M6191,591.4h179"/><text y="539"><tspan x="6199" dy="14.6">+ PARAM_REDIRECT</tspan><tspan x="6199" dy="14.6">+ PARAM_BASE_CLASS</tspan><tspan x="6199" dy="14.6">+ CMD_MODE_ASYNC</tspan></text><text y="592.8"><tspan x="6199" dy="14.6">+ callBaseClass()</tspan><tspan x="6199" dy="14.6">+ forwardCommand()</tspan><tspan x="6199" dy="14.6">+ getHTML()</tspan><tspan x="6199" dy="14.6">+ getCmd()</tspan><tspan x="6199" dy="14.6">+ getCmdClass()</tspan><tspan x="6199" dy="14.6">+ getNextClass()</tspan><tspan x="6199" dy="14.6">+ saveParameter()</tspan><tspan x="6199" dy="14.6">+ saveParameterByClass()</tspan><tspan x="6199" dy="14.6">+ setParameter()</tspan><tspan x="6199" dy="14.6">+ setParameterByClass()</tspan><tspan x="6199" dy="14.6">and 32 more...</tspan></text></g>
<g id="n_cron" class="n"><rect x="6414" y="820" width="207" height="190"/><text class="tc" x="6517.5" y="836"><tspan x="6517.5">ilCronDeleteInactiveUser</tspan><tspan x="6517.5" dy="14.6">ReminderMail</tspan></text><path d="M6414,859.2h207M6414,883.2h207"/><text y="884.6"><tspan x="6422" dy="14.6">+ __construct()</tspan><tspan x="6422" dy="14.6">+ removeEntriesFromTableIf</tspan><tspan x="6422" dy="14.6">LastLoginIsNewer()</tspan><tspan x="6422" dy="14.6">+ sendReminderMailIfNeeded()</tspan><tspan x="6422" dy="14.6">+ flushDataTable()</tspan><tspan x="6422" dy="14.6">+ removeSingleUserFromTable()</tspan><tspan x="6422" dy="14.6">- persistMailSent()</tspan><tspan x="6422" dy="14.6">- sendReminder()</tspan></text></g>
<g id="n_ctrl" class="n"><rect x="6091" y="1075" width="188" height="365"/><text class="tc" x="6185" y="1091">ilCtrl</text><path d="M6091,1099.6h188M6091,1123.6h188"/><text y="1125"><tspan x="6099" dy="14.6">+ __construct()</tspan><tspan x="6099" dy="14.6">+ __clone()</tspan><tspan x="6099" dy="14.6">+ callBaseClass()</tspan><tspan x="6099" dy="14.6">+ forwardCommand()</tspan><tspan x="6099" dy="14.6">+ getHTML()</tspan><tspan x="6099" dy="14.6">+ getCmd()</tspan><tspan x="6099" dy="14.6">+ getCmdClass()</tspan><tspan x="6099" dy="14.6">+ getNextClass()</tspan><tspan x="6099" dy="14.6">+ saveParameter()</tspan><tspan x="6099" dy="14.6">+ saveParameterByClass()</tspan><tspan x="6099" dy="14.6">and 34 more...</tspan><tspan x="6099" dy="14.6"># getDeterminedCommand()</tspan><tspan x="6099" dy="14.6">- getQueryParam()</tspan><tspan x="6099" dy="14.6">- getTableCommand()</tspan><tspan x="6099" dy="14.6">- getPostCommand()</tspan><tspan x="6099" dy="14.6">- getTargetUrl()</tspan><tspan x="6099" dy="14.6">- isCmdSecure()</tspan><tspan x="6099" dy="14.6">- appendParameterStringsBy</tspan><tspan x="6099" dy="14.6">Class()</tspan><tspan x="6099" dy="14.6">- populateCall()</tspan><tspan x="6099" dy="14.6">- getClassByObject()</tspan></text></g>
<g id="n_ilias" class="n"><rect x="4890" y="1142" width="139" height="234"/><text class="tc" x="4959.5" y="1158">ILIAS</text><path d="M4890,1166.6h139M4890,1249.6h139"/><text y="1168"><tspan x="4898" dy="14.6">+ $account</tspan><tspan x="4898" dy="14.6">+ $ini</tspan><tspan x="4898" dy="14.6">+ $ini_ilias</tspan><tspan x="4898" dy="14.6">+ $db</tspan><tspan x="4898" dy="14.6">+ $error_obj</tspan></text><text y="1251"><tspan x="4898" dy="14.6">+ __construct()</tspan><tspan x="4898" dy="14.6">+ getSetting()</tspan><tspan x="4898" dy="14.6">+ deleteSetting()</tspan><tspan x="4898" dy="14.6">+ getAllSettings()</tspan><tspan x="4898" dy="14.6">+ setSetting()</tspan><tspan x="4898" dy="14.6">+ getClientId()</tspan><tspan x="4898" dy="14.6">+ raiseError()</tspan><tspan x="4898" dy="14.6"># getSettingObject()</tspan></text></g>
<g id="n_globaltemplate" class="n"><rect x="6763" y="1505" width="198" height="219"/><text class="tc" x="6862" y="1521">ILIAS\UICore\GlobalTemplate</text><path d="M6763,1529.6h198M6763,1553.6h198"/><text y="1555"><tspan x="6771" dy="14.6">+ hideFooter()</tspan><tspan x="6771" dy="14.6">+ setOnScreenMessage()</tspan><tspan x="6771" dy="14.6">+ addJavaScript()</tspan><tspan x="6771" dy="14.6">+ addOnLoadCode()</tspan><tspan x="6771" dy="14.6">+ getOnLoadCodeForAsynch()</tspan><tspan x="6771" dy="14.6">+ resetJavascript()</tspan><tspan x="6771" dy="14.6">+ fillJavaScriptFiles()</tspan><tspan x="6771" dy="14.6">+ addCss()</tspan><tspan x="6771" dy="14.6">+ addInlineCss()</tspan><tspan x="6771" dy="14.6">+ setBodyClass()</tspan><tspan x="6771" dy="14.6">and 32 more...</tspan></text></g>
<g id="n_language" class="n"><rect x="3682" y="2244" width="180" height="321"/><text class="tc" x="3772" y="2260">ilLanguage</text><path d="M3682,2268.6h180M3682,2292.6h180"/><text y="2294"><tspan x="3690" dy="14.6">+ __construct()</tspan><tspan x="3690" dy="14.6">+ getLangKey()</tspan><tspan x="3690" dy="14.6">+ getDefaultLanguage()</tspan><tspan x="3690" dy="14.6">+ getTextDirection()</tspan><tspan x="3690" dy="14.6">+ getContentLanguage()</tspan><tspan x="3690" dy="14.6">+ txtlng()</tspan><tspan x="3690" dy="14.6">+ txt()</tspan><tspan x="3690" dy="14.6">+ exists()</tspan><tspan x="3690" dy="14.6">+ loadLanguageModule()</tspan><tspan x="3690" dy="14.6">+ getInstalledLanguages()</tspan><tspan x="3690" dy="14.6">and 7 more...</tspan><tspan x="3690" dy="14.6">+ _getInstalledLanguages()</tspan><tspan x="3690" dy="14.6">+ _lookupEntry()</tspan><tspan x="3690" dy="14.6">+ lookupId()</tspan><tspan x="3690" dy="14.6">+ getFallbackInstance()</tspan><tspan x="3690" dy="14.6">+ getGlobalInstance()</tspan><tspan x="3690" dy="14.6"># logUsage()</tspan><tspan x="3690" dy="14.6"># isUsageLogEnabled()</tspan></text></g>
<g id="n_properties" class="n"><rect x="4290" y="2273" width="236" height="263"/><text class="tc" x="4408" y="2289"><tspan x="4408">ILIAS\ILIASObject\Properties</tspan><tspan x="4408" dy="14.6">\Properties</tspan></text><path d="M4290,2312.2h236M4290,2336.2h236"/><text y="2337.6"><tspan x="4298" dy="14.6">+ __construct()</tspan><tspan x="4298" dy="14.6">+ storeCoreProperties()</tspan><tspan x="4298" dy="14.6">+ getOwner()</tspan><tspan x="4298" dy="14.6">+ withOwner()</tspan><tspan x="4298" dy="14.6">+ getImportId()</tspan><tspan x="4298" dy="14.6">+ withImportId()</tspan><tspan x="4298" dy="14.6">+ getPropertyTitleAndDescription()</tspan><tspan x="4298" dy="14.6">+ withPropertyTitleAndDescription()</tspan><tspan x="4298" dy="14.6">+ storePropertyTitleAndDescription()</tspan><tspan x="4298" dy="14.6">+ getPropertyIsOnline()</tspan><tspan x="4298" dy="14.6">and 16 more...</tspan><tspan x="4298" dy="14.6">- updateMetadataForTitleAnd</tspan><tspan x="4298" dy="14.6">Description()</tspan></text></g>
<g id="n_aggregator" class="n"><rect x="4551" y="2349" width="193" height="117"/><text class="tc" x="4647.5" y="2365"><tspan x="4647.5">ILIAS\ILIASObject\Properties</tspan><tspan x="4647.5" dy="14.6">\Aggregator</tspan></text><path d="M4551,2388.2h193M4551,2412.2h193"/><text y="2413.6"><tspan x="4559" dy="14.6">+ __construct()</tspan><tspan x="4559" dy="14.6">+ getFor()</tspan><tspan x="4559" dy="14.6">+ preload()</tspan></text></g>
<g id="n_object2" class="n"><rect x="3936" y="2692" width="227" height="613"/><text class="tc" x="4049.5" y="2708">ilObject</text><path d="M3936,2716.6h227M3936,2740.6h227"/><text y="2742"><tspan x="3944" dy="14.6">+ getObjectProperties()</tspan><tspan x="3944" dy="14.6">+ flushObjectProperties()</tspan><tspan x="3944" dy="14.6">+ withReferences()</tspan><tspan x="3944" dy="14.6">+ processAutoRating()</tspan><tspan x="3944" dy="14.6">+ read()</tspan><tspan x="3944" dy="14.6">+ getId()</tspan><tspan x="3944" dy="14.6">+ setId()</tspan><tspan x="3944" dy="14.6">+ setRefId()</tspan><tspan x="3944" dy="14.6">+ getRefId()</tspan><tspan x="3944" dy="14.6">+ getType()</tspan><tspan x="3944" dy="14.6">and 140 more...</tspan><tspan x="3944" dy="14.6">+ _lookupObjIdByImportId()</tspan><tspan x="3944" dy="14.6">+ _lookupImportId()</tspan><tspan x="3944" dy="14.6">+ _lookupOwnerName()</tspan><tspan x="3944" dy="14.6">+ _getIdForImportId()</tspan><tspan x="3944" dy="14.6">+ _getAllReferences()</tspan><tspan x="3944" dy="14.6">+ _lookupTitle()</tspan><tspan x="3944" dy="14.6">+ lookupOfflineStatus()</tspan><tspan x="3944" dy="14.6">+ _lookupOwner()</tspan><tspan x="3944" dy="14.6">+ _getIdsForTitle()</tspan><tspan x="3944" dy="14.6">+ _lookupDescription()</tspan><tspan x="3944" dy="14.6">and 27 more...</tspan><tspan x="3944" dy="14.6"># doMDUpdateListener()</tspan><tspan x="3944" dy="14.6"># beforeMDUpdateListener()</tspan><tspan x="3944" dy="14.6"># doCreateMetaData()</tspan><tspan x="3944" dy="14.6"># beforeCreateMetaData()</tspan><tspan x="3944" dy="14.6"># doUpdateMetaData()</tspan><tspan x="3944" dy="14.6"># beforeUpdateMetaData()</tspan><tspan x="3944" dy="14.6"># doDeleteMetaData()</tspan><tspan x="3944" dy="14.6"># beforeDeleteMetaData()</tspan><tspan x="3944" dy="14.6"># handleAutoRating()</tspan><tspan x="3944" dy="14.6"># hasAutoRating()</tspan><tspan x="3944" dy="14.6">- appendCopyInfoToTranslations()</tspan><tspan x="3944" dy="14.6">- getCallbackForTitlesPerLanguage</tspan><tspan x="3944" dy="14.6">Transformation()</tspan><tspan x="3944" dy="14.6">- appendNumberOfCopiesToTitle()</tspan><tspan x="3944" dy="14.6">- isTitleUnique()</tspan><tspan x="3944" dy="14.6">- buildTitleWithoutCopySuffix()</tspan></text></g>
<g id="n_objuser" class="n"><rect x="4719" y="3479" width="200" height="760"/><text class="tc" x="4819" y="3495">ilObjUser</text><path d="M4719,3503.6h200M4719,3834.8h200"/><text y="3505"><tspan x="4727" dy="14.6">+ $login</tspan><tspan x="4727" dy="14.6">+ $gender</tspan><tspan x="4727" dy="14.6">+ $utitle</tspan><tspan x="4727" dy="14.6">+ $firstname</tspan><tspan x="4727" dy="14.6">+ $lastname</tspan><tspan x="4727" dy="14.6">+ $fullname</tspan><tspan x="4727" dy="14.6">+ $department</tspan><tspan x="4727" dy="14.6">+ $street</tspan><tspan x="4727" dy="14.6">+ $city</tspan><tspan x="4727" dy="14.6">+ $country</tspan><tspan x="4727" dy="14.6">and 12 more...</tspan><tspan x="4727" dy="14.6"># $time_limit_message</tspan><tspan x="4727" dy="14.6"># $last_login</tspan><tspan x="4727" dy="14.6"># $passwd</tspan><tspan x="4727" dy="14.6"># $password_encoding_type</tspan><tspan x="4727" dy="14.6"># $password_salt</tspan><tspan x="4727" dy="14.6"># $birthday</tspan><tspan x="4727" dy="14.6"># $second_email</tspan><tspan x="4727" dy="14.6"># $inactivation_date</tspan><tspan x="4727" dy="14.6"># $org_units</tspan><tspan x="4727" dy="14.6"># $last_profile_prompt</tspan><tspan x="4727" dy="14.6"># $avatar_rid</tspan></text><text y="3836.2"><tspan x="4727" dy="14.6">+ __construct()</tspan><tspan x="4727" dy="14.6">+ read()</tspan><tspan x="4727" dy="14.6">+ getPasswordEncodingType()</tspan><tspan x="4727" dy="14.6">+ setPasswordEncodingType()</tspan><tspan x="4727" dy="14.6">+ getPasswordSalt()</tspan><tspan x="4727" dy="14.6">+ setPasswordSalt()</tspan><tspan x="4727" dy="14.6">+ assignData()</tspan><tspan x="4727" dy="14.6">+ saveAsNew()</tspan><tspan x="4727" dy="14.6">+ update()</tspan><tspan x="4727" dy="14.6">+ writeAccepted()</tspan><tspan x="4727" dy="14.6">and 189 more...</tspan><tspan x="4727" dy="14.6">+ _lookupFullname()</tspan><tspan x="4727" dy="14.6">+ _lookupEmail()</tspan><tspan x="4727" dy="14.6">+ _lookupGender()</tspan><tspan x="4727" dy="14.6">+ _lookupClientIP()</tspan><tspan x="4727" dy="14.6">+ _lookupName()</tspan><tspan x="4727" dy="14.6">+ _lookupFields()</tspan><tspan x="4727" dy="14.6">+ _lookupLogin()</tspan><tspan x="4727" dy="14.6">+ _lookupExternalAccount()</tspan><tspan x="4727" dy="14.6">+ _lookupId()</tspan><tspan x="4727" dy="14.6">+ _lookupLastLogin()</tspan><tspan x="4727" dy="14.6">and 62 more...</tspan><tspan x="4727" dy="14.6"># buildTextFromArray()</tspan><tspan x="4727" dy="14.6"># readMultiTextFields()</tspan><tspan x="4727" dy="14.6"># deleteMultiTextFields()</tspan><tspan x="4727" dy="14.6">- _setup()</tspan><tspan x="4727" dy="14.6">- getLoginFromAuth()</tspan></text></g>
<g id="n_tabsgui" class="n"><rect x="5714" y="2870" width="239" height="263"/><text class="tc" x="5833.5" y="2886">ilTabsGUI</text><path d="M5714,2894.6h239M5714,2918.6h239"/><text y="2920"><tspan x="5722" dy="14.6">+ setSetupMode()</tspan><tspan x="5722" dy="14.6">+ getSetupMode()</tspan><tspan x="5722" dy="14.6">+ setBackTarget()</tspan><tspan x="5722" dy="14.6">+ setBack2Target()</tspan><tspan x="5722" dy="14.6">+ setForcePresentationOfSingleTab()</tspan><tspan x="5722" dy="14.6">+ getForcePresentationOfSingleTab()</tspan><tspan x="5722" dy="14.6">+ addTarget()</tspan><tspan x="5722" dy="14.6">+ addTab()</tspan><tspan x="5722" dy="14.6">+ removeTab()</tspan><tspan x="5722" dy="14.6">+ removeSubTab()</tspan><tspan x="5722" dy="14.6">and 15 more...</tspan><tspan x="5722" dy="14.6"># symbol()</tspan><tspan x="5722" dy="14.6"># getTabTextOfId()</tspan><tspan x="5722" dy="14.6">- isTabActive()</tspan></text></g>
<g id="n_bookingpool" class="n"><rect x="6163" y="3720" width="215" height="278"/><text class="tc" x="6270.5" y="3736">ilObjBookingPool</text><path d="M6163,3744.6h215M6163,3768.6h215"/><text y="3770"><tspan x="6171" dy="14.6">+ __construct()</tspan><tspan x="6171" dy="14.6">+ create()</tspan><tspan x="6171" dy="14.6">+ update()</tspan><tspan x="6171" dy="14.6">+ read()</tspan><tspan x="6171" dy="14.6">+ delete()</tspan><tspan x="6171" dy="14.6">+ cloneObject()</tspan><tspan x="6171" dy="14.6">+ setMessages()</tspan><tspan x="6171" dy="14.6">+ usesMessages()</tspan><tspan x="6171" dy="14.6">+ setPublicLog()</tspan><tspan x="6171" dy="14.6">+ hasPublicLog()</tspan><tspan x="6171" dy="14.6">and 14 more...</tspan><tspan x="6171" dy="14.6">+ getPoolsWithReminders()</tspan><tspan x="6171" dy="14.6">+ writeLastReminderTimestamp()</tspan><tspan x="6171" dy="14.6">+ getAdvancedMDFields()</tspan><tspan x="6171" dy="14.6"># getDBFields()</tspan></text></g>
<g id="n_helprequest" class="n"><rect x="5374" y="3755" width="213" height="205"/><text class="tc" x="5480.5" y="3771">ILIAS\Help\StandardGUIRequest</text><path d="M5374,3779.6h213M5374,3803.6h213"/><text y="3805"><tspan x="5382" dy="14.6">+ __construct()</tspan><tspan x="5382" dy="14.6">+ getIds()</tspan><tspan x="5382" dy="14.6">+ getHelpModuleId()</tspan><tspan x="5382" dy="14.6">+ getHelpScreenId()</tspan><tspan x="5382" dy="14.6">+ getHelpPage()</tspan><tspan x="5382" dy="14.6">+ getRefId()</tspan><tspan x="5382" dy="14.6">+ getTerm()</tspan><tspan x="5382" dy="14.6">+ getHelpModuleIds()</tspan><tspan x="5382" dy="14.6">+ getHelpMode()</tspan><tspan x="5382" dy="14.6">+ getOrder()</tspan></text></g>
<g id="n_helpgui" class="n"><rect x="5178" y="4311" width="179" height="278"/><text class="tc" x="5267.5" y="4327">ilHelpGUI</text><path d="M5178,4335.6h179M5178,4359.6h179"/><text y="4361"><tspan x="5186" dy="14.6">+ __construct()</tspan><tspan x="5186" dy="14.6">+ setDefaultScreenId()</tspan><tspan x="5186" dy="14.6">+ setScreenId()</tspan><tspan x="5186" dy="14.6">+ setSubScreenId()</tspan><tspan x="5186" dy="14.6">+ setScreenIdComponent()</tspan><tspan x="5186" dy="14.6">+ getScreenId()</tspan><tspan x="5186" dy="14.6">+ addHelpSection()</tspan><tspan x="5186" dy="14.6">+ hasSections()</tspan><tspan x="5186" dy="14.6">+ getHelpSections()</tspan><tspan x="5186" dy="14.6">+ setCtrlPar()</tspan><tspan x="5186" dy="14.6">and 18 more...</tspan><tspan x="5186" dy="14.6"># initUI()</tspan><tspan x="5186" dy="14.6"># symbol()</tspan><tspan x="5186" dy="14.6"># replaceMenuItemTags()</tspan><tspan x="5186" dy="14.6"># replaceItemTag()</tspan></text></g>
<g id="n_helpadapter" class="n"><rect x="5510" y="4675" width="148" height="88"/><text class="tc" x="5584" y="4691">ilBookingHelpAdapter</text><path d="M5510,4699.6h148M5510,4723.6h148"/><text y="4725"><tspan x="5518" dy="14.6">+ __construct()</tspan><tspan x="5518" dy="14.6">+ setHelpId()</tspan></text></g>
<g id="n_main" class="n hl"><rect x="5460" y="4853" width="248" height="292"/><text class="tc" x="5584" y="4869">ilBookingProcessWithoutScheduleGUI</text><path d="M5460,4877.6h248M5460,4901.6h248"/><text y="4903"><tspan x="5468" dy="14.6">+ __construct()</tspan><tspan x="5468" dy="14.6">+ executeCommand()</tspan><tspan x="5468" dy="14.6">+ book()</tspan><tspan x="5468" dy="14.6">+ assignParticipants()</tspan><tspan x="5468" dy="14.6">+ bookMultipleParticipants()</tspan><tspan x="5468" dy="14.6">+ redirectToParticipantsList()</tspan><tspan x="5468" dy="14.6">+ saveMultipleBookings()</tspan><tspan x="5468" dy="14.6">+ confirmedBooking()</tspan><tspan x="5468" dy="14.6">+ displayPostInfo()</tspan><tspan x="5468" dy="14.6">+ deliverPostFile()</tspan><tspan x="5468" dy="14.6">+ back()</tspan><tspan x="5468" dy="14.6"># showNoPermission()</tspan><tspan x="5468" dy="14.6"># getMessageForm()</tspan><tspan x="5468" dy="14.6"># showMessageForm()</tspan><tspan x="5468" dy="14.6"># saveMessage()</tspan><tspan x="5468" dy="14.6"># showConfirmation()</tspan></text></g>
</svg>
